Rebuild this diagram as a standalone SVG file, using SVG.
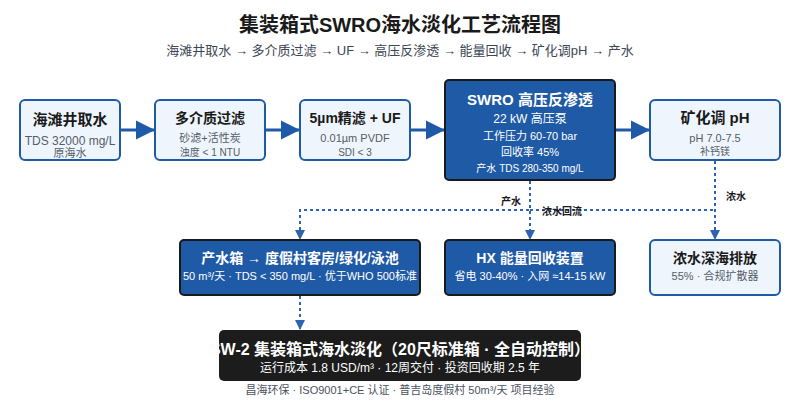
<svg xmlns="http://www.w3.org/2000/svg" width="800" height="400" viewBox="0 0 800 400">
<defs>
<style>
text{font-family:"Liberation Sans","Noto Sans CJK SC",sans-serif;text-anchor:middle}
.light{fill:#eef5fd;stroke:#1e5aa8;stroke-width:2}
.dark{fill:#1f5aa6;stroke:#1a1a1a;stroke-width:2}
.black{fill:#1c1c1c}
.t{font-weight:bold;fill:#1a1a1a}
.s{fill:#555d68}
.tw{font-weight:bold;fill:#ffffff}
.sw{fill:#ffffff}
.solid{stroke:#1e5aa8;stroke-width:3;fill:none}
.dash{stroke:#2e63b0;stroke-width:2;fill:none;stroke-dasharray:3 3}
.lbl{font-size:10px;font-weight:bold;fill:#1a1a1a}
</style>
<marker id="big" viewBox="0 0 10 10" refX="10" refY="5" markerWidth="6.5" markerHeight="6.5" markerUnits="strokeWidth" orient="auto"><path d="M0,0 L10,5 L0,10 z" fill="#1e5aa8"/></marker>
<marker id="small" viewBox="0 0 10 10" refX="10" refY="5" markerWidth="5" markerHeight="5" markerUnits="strokeWidth" orient="auto"><path d="M0,0 L10,5 L0,10 z" fill="#2e63b0"/></marker>
<clipPath id="clipBottom"><rect x="219" y="330" width="362" height="51" rx="5"/></clipPath>
</defs>
<rect width="800" height="400" fill="#ffffff"/>
<text x="400" y="32" style="font-size:20px;font-weight:bold;fill:#1a1a1a">集装箱式SWRO海水淡化工艺流程图</text>
<text x="400" y="55" style="font-size:13px;fill:#3c4654">海滩井取水 → 多介质过滤 → UF → 高压反渗透 → 能量回收 → 矿化调pH → 产水</text>

<g id="connectors">
<line class="solid" x1="120" y1="130" x2="155" y2="130" marker-end="url(#big)"/>
<line class="solid" x1="265" y1="130" x2="300" y2="130" marker-end="url(#big)"/>
<line class="solid" x1="410" y1="130" x2="445" y2="130" marker-end="url(#big)"/>
<line class="solid" x1="615" y1="130" x2="650" y2="130" marker-end="url(#big)"/>
<path class="dash" d="M530,181 V210 H300 V240" marker-end="url(#small)"/>
<path class="dash" d="M530,181 V240" marker-end="url(#small)"/>
<path class="dash" d="M530,210 H715"/>
<path class="dash" d="M715,161 V240" marker-end="url(#small)"/>
<path class="dash" d="M300,296 V330" marker-end="url(#small)"/>
<text class="lbl" x="511" y="205">产水</text>
<text class="lbl" x="562" y="215">浓水回流</text>
<text class="lbl" x="736" y="200">浓水</text>
</g>

<g id="n1">
<rect class="light" x="20" y="100" width="100" height="60" rx="5"/>
<text class="t" x="70" y="125" style="font-size:15px">海滩井取水</text>
<text class="s" x="70" y="145" style="font-size:12px">TDS 32000 mg/L</text>
<text class="s" x="70" y="157" style="font-size:11px">原海水</text>
</g>
<g id="n2">
<rect class="light" x="155" y="100" width="110" height="60" rx="5"/>
<text class="t" x="210" y="123" style="font-size:14px">多介质过滤</text>
<text class="s" x="210" y="142" style="font-size:11px">砂滤+活性炭</text>
<text class="s" x="210" y="156" style="font-size:10px">浊度 &lt; 1 NTU</text>
</g>
<g id="n3">
<rect class="light" x="300" y="100" width="110" height="60" rx="5"/>
<text class="t" x="355" y="123" style="font-size:14px">5µm精滤 + UF</text>
<text class="s" x="355" y="142" style="font-size:11px">0.01µm PVDF</text>
<text class="s" x="355" y="156" style="font-size:10px">SDI &lt; 3</text>
</g>
<g id="n4">
<rect class="dark" x="445" y="80" width="170" height="100" rx="4"/>
<text class="tw" x="530" y="105" style="font-size:15px">SWRO 高压反渗透</text>
<text class="sw" x="530" y="123" style="font-size:12px">22 kW 高压泵</text>
<text class="sw" x="530" y="140" style="font-size:11px">工作压力 60-70 bar</text>
<text class="sw" x="530" y="156" style="font-size:11px">回收率 45%</text>
<text class="sw" x="530" y="172" style="font-size:10px">产水 TDS 280-350 mg/L</text>
</g>
<g id="n5">
<rect class="light" x="650" y="100" width="130" height="60" rx="5"/>
<text class="t" x="715" y="123" style="font-size:15px">矿化调 pH</text>
<text class="s" x="715" y="142" style="font-size:11px">pH 7.0-7.5</text>
<text class="s" x="715" y="155" style="font-size:10px">补钙镁</text>
</g>
<g id="n6">
<rect class="dark" x="180" y="240" width="240" height="55" rx="4"/>
<text class="tw" x="300" y="263" style="font-size:14px">产水箱 → 度假村客房/绿化/泳池</text>
<text class="sw" x="300" y="280" style="font-size:11px">50 m³/天 · TDS &lt; 350 mg/L · 优于WHO 500标准</text>
</g>
<g id="n7">
<rect class="dark" x="445" y="240" width="170" height="55" rx="4"/>
<text class="tw" x="530" y="263" style="font-size:14px">HX 能量回收装置</text>
<text class="sw" x="530" y="280" style="font-size:11px">省电 30-40% · 入网 ≈14-15 kW</text>
</g>
<g id="n8">
<rect class="light" x="650" y="240" width="130" height="55" rx="5"/>
<text class="t" x="715" y="263" style="font-size:14px">浓水深海排放</text>
<text class="s" x="715" y="280" style="font-size:11px">55% · 合规扩散器</text>
</g>
<g id="n9">
<rect class="black" x="219" y="330" width="362" height="51" rx="5"/>
<g clip-path="url(#clipBottom)">
<text class="tw" x="400" y="355" style="font-size:16px">SW-2 集装箱式海水淡化（20尺标准箱 · 全自动控制）</text>
</g>
<text class="sw" x="400" y="372" style="font-size:12px">运行成本 1.8 USD/m³ · 12周交付 · 投资回收期 2.5 年</text>
</g>
<text x="400" y="394" style="font-size:11px;fill:#4a5260">昌海环保 · ISO9001+CE 认证 · 普吉岛度假村 50m³/天 项目经验</text>
</svg>
